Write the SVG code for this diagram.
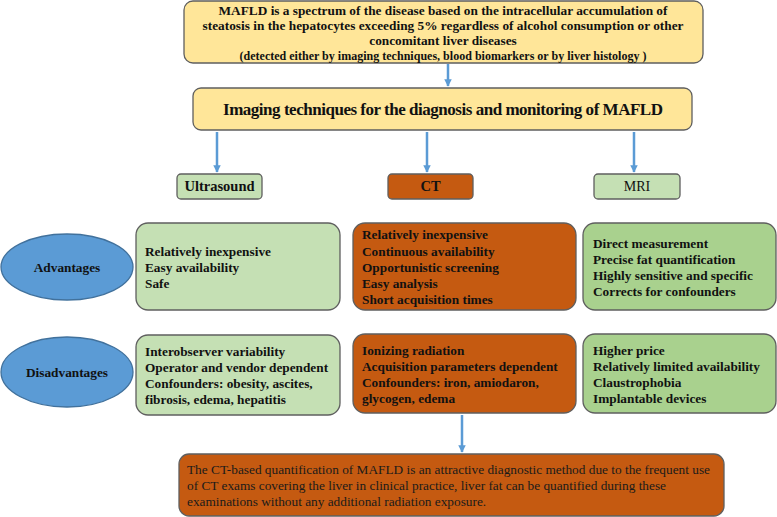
<svg xmlns="http://www.w3.org/2000/svg" width="777" height="517" viewBox="0 0 777 517">
<defs>
<marker id="ah" viewBox="0 0 10 10" refX="9" refY="5" markerWidth="3" markerHeight="3" orient="auto"><path d="M0,0 L10,5 L0,10 z" fill="#5B9BD5"/></marker>
<style>
.box{stroke:#5f5f5f;stroke-width:1.3}
.yel{fill:#FFE699}
.lg{fill:#C5E0B4}
.mg{fill:#A9D18E}
.or{fill:#C55A11}
.ell{fill:#5B9BD5;stroke:#41719C;stroke-width:1.3}
text{font-family:"Liberation Serif","Times New Roman",serif;fill:#111}
.b{font-weight:bold;font-size:13.3px}
.hb{font-weight:bold;font-size:14.5px}
.s{font-weight:bold;font-size:12px}
.n{font-size:13.3px;fill:#1a1a1a}
.h{font-weight:bold;font-size:17px}
.c{text-anchor:middle}
.con{stroke:#5B9BD5;stroke-width:2.5;fill:none;marker-end:url(#ah)}
</style>
</defs>
<rect width="777" height="517" fill="#fff"/>
<g id="connectors">
<line class="con" x1="448" y1="64" x2="448" y2="86"/>
<line class="con" x1="217" y1="132" x2="217" y2="172"/>
<line class="con" x1="427" y1="132" x2="427" y2="172"/>
<line class="con" x1="634" y1="132" x2="634" y2="172"/>
<line class="con" x1="462" y1="415" x2="462" y2="452"/>
</g>
<g id="def">
<rect class="box yel" x="184" y="1" width="519" height="62" rx="9"/>
<text class="b c" x="443" y="15">MAFLD is a spectrum of the disease based on the intracellular accumulation of</text>
<text class="b c" x="443" y="30" textLength="481">steatosis in the hepatocytes exceeding 5% regardless of alcohol consumption or other</text>
<text class="b c" x="443" y="45">concomitant liver diseases</text>
<text class="s c" x="443" y="60" textLength="407">(detected either by imaging techniques, blood biomarkers or by liver histology )</text>
</g>
<g id="imaging">
<rect class="box yel" x="193" y="88" width="499" height="42" rx="8"/>
<text class="h c" x="443" y="115" textLength="440">Imaging techniques for the diagnosis and monitoring of MAFLD</text>
</g>
<g id="us">
<rect class="box lg" x="177" y="174" width="85" height="25" rx="4"/>
<text class="hb c" x="219.5" y="191">Ultrasound</text>
</g>
<g id="ct">
<rect class="box or" x="388" y="174" width="85" height="25" rx="4"/>
<text class="hb c" x="430.5" y="191">CT</text>
</g>
<g id="mri">
<rect class="box lg" x="594" y="174" width="86" height="25" rx="4"/>
<text class="c" x="637" y="191" style="font-size:14px">MRI</text>
</g>
<g id="advantages">
<ellipse class="ell" cx="67" cy="267" rx="66" ry="33"/>
<text class="b c" x="67" y="272">Advantages</text>
</g>
<g id="disadvantages">
<ellipse class="ell" cx="67" cy="372" rx="66" ry="35"/>
<text class="b c" x="67" y="377">Disadvantages</text>
</g>
<g id="us-adv">
<rect class="box lg" x="136" y="223" width="204" height="87" rx="12"/>
<text class="b" x="145" y="256">Relatively inexpensive</text>
<text class="b" x="145" y="272">Easy availability</text>
<text class="b" x="145" y="288">Safe</text>
</g>
<g id="ct-adv">
<rect class="box or" x="353" y="223" width="223" height="87" rx="12"/>
<text class="b" x="362" y="239">Relatively inexpensive</text>
<text class="b" x="362" y="256">Continuous availability</text>
<text class="b" x="362" y="272">Opportunistic screening</text>
<text class="b" x="362" y="288">Easy analysis</text>
<text class="b" x="362" y="304">Short acquisition times</text>
</g>
<g id="mri-adv">
<rect class="box mg" x="583" y="223" width="193" height="87" rx="12"/>
<text class="b" x="593" y="248">Direct measurement</text>
<text class="b" x="593" y="264">Precise fat quantification</text>
<text class="b" x="593" y="280">Highly sensitive and specific</text>
<text class="b" x="593" y="296">Corrects for confounders</text>
</g>
<g id="us-dis">
<rect class="box lg" x="136" y="335" width="204" height="80" rx="12"/>
<text class="b" x="145" y="356">Interobserver variability</text>
<text class="b" x="145" y="372">Operator and vendor dependent</text>
<text class="b" x="145" y="388">Confounders: obesity, ascites,</text>
<text class="b" x="145" y="404">fibrosis, edema, hepatitis</text>
</g>
<g id="ct-dis">
<rect class="box or" x="353" y="334" width="223" height="79" rx="12"/>
<text class="b" x="362" y="355">Ionizing radiation</text>
<text class="b" x="362" y="371">Acquisition parameters dependent</text>
<text class="b" x="362" y="387">Confounders: iron, amiodaron,</text>
<text class="b" x="362" y="403">glycogen, edema</text>
</g>
<g id="mri-dis">
<rect class="box mg" x="583" y="334" width="193" height="79" rx="12"/>
<text class="b" x="593" y="355">Higher price</text>
<text class="b" x="593" y="371">Relatively limited availability</text>
<text class="b" x="593" y="387">Claustrophobia</text>
<text class="b" x="593" y="403">Implantable devices</text>
</g>
<g id="conclusion">
<rect class="box or" x="179" y="454" width="545" height="62" rx="10"/>
<text class="n" x="187" y="474" textLength="523">The CT-based quantification of MAFLD is an attractive diagnostic method due to the frequent use</text>
<text class="n" x="187" y="490">of CT exams covering the liver in clinical practice, liver fat can be quantified during these</text>
<text class="n" x="187" y="506">examinations without any additional radiation exposure.</text>
</g>
</svg>
